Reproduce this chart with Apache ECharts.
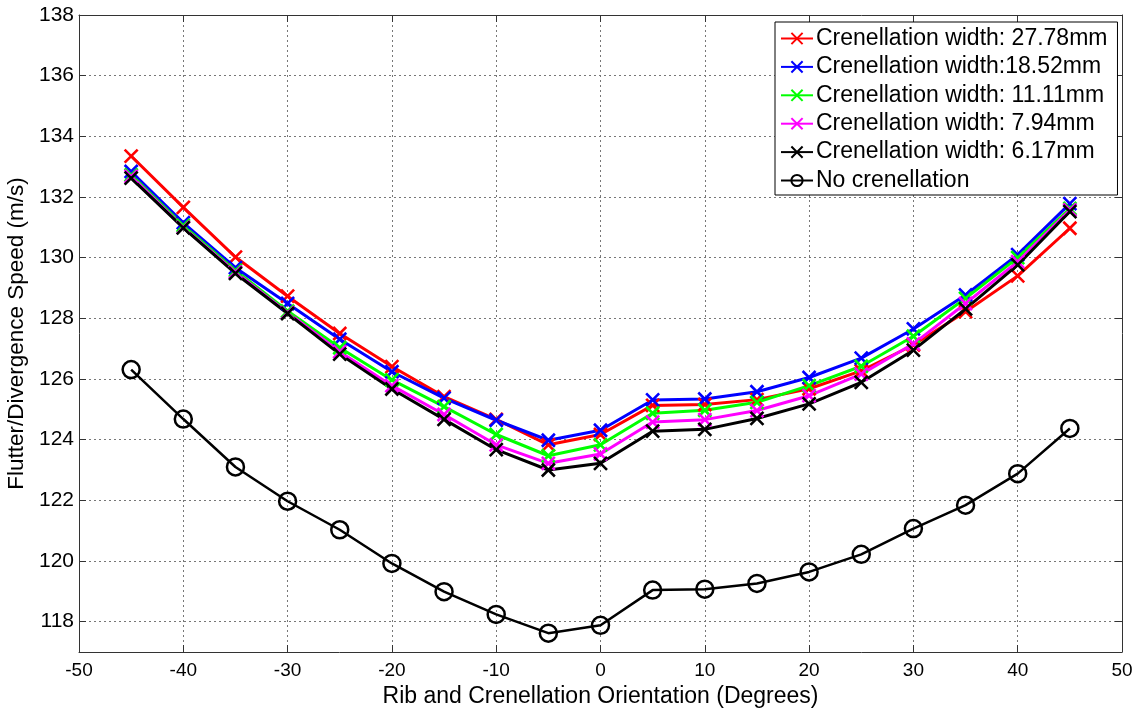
<!DOCTYPE html>
<html>
<head>
<meta charset="utf-8">
<script src="https://cdn.jsdelivr.net/npm/echarts@6/dist/echarts.min.js"></script>
<style>
  html, body { margin: 0; padding: 0; background: #fff; }
  #chart { width: 1143px; height: 711px; }
</style>
</head>
<body>
<div id="chart"></div>
<script>
// Orientation angles (degrees)
const angles = [-45, -40, -35, -30, -25, -20, -15, -10, -5, 0, 5, 10, 15, 20, 25, 30, 35, 40, 45];

// Flutter/divergence speed (m/s) for each crenellation width
const width2778 = [133.35, 131.66, 130.02, 128.73, 127.50, 126.41, 125.42, 124.67, 123.83, 124.17, 125.13, 125.16, 125.32, 125.68, 126.27, 127.12, 128.22, 129.40, 130.97];
const width1852 = [132.84, 131.15, 129.67, 128.49, 127.31, 126.24, 125.37, 124.64, 123.98, 124.31, 125.31, 125.34, 125.58, 126.05, 126.69, 127.65, 128.77, 130.10, 131.78];
const width1111 = [132.73, 131.06, 129.58, 128.24, 127.03, 125.97, 125.09, 124.17, 123.47, 123.83, 124.87, 124.97, 125.23, 125.78, 126.42, 127.41, 128.66, 130.00, 131.62];
const width794  = [132.68, 131.00, 129.52, 128.19, 126.90, 125.78, 124.83, 123.83, 123.22, 123.53, 124.58, 124.66, 124.96, 125.45, 126.16, 127.16, 128.49, 129.87, 131.57];
const width617  = [132.62, 130.98, 129.48, 128.16, 126.82, 125.67, 124.67, 123.67, 123.00, 123.22, 124.28, 124.34, 124.70, 125.18, 125.89, 126.95, 128.31, 129.76, 131.52];
const noCren    = [126.31, 124.68, 123.10, 121.97, 121.03, 119.92, 118.99, 118.24, 117.62, 117.88, 119.04, 119.07, 119.26, 119.64, 120.22, 121.07, 121.84, 122.88, 124.37];

const seriesNames = [
  'Crenellation width: 27.78mm',
  'Crenellation width:18.52mm',
  'Crenellation width: 11.11mm',
  'Crenellation width: 7.94mm',
  'Crenellation width: 6.17mm',
  'No crenellation'
];

// Axis tick values
const xTicks = [-50, -40, -30, -20, -10, 0, 10, 20, 30, 40, 50];
const yTicks = [118, 120, 122, 124, 126, 128, 130, 132, 134, 136, 138];

const FONT = 'Liberation Sans, Arial, sans-serif';
const CROSS = 'path://M0 0L10 10M10 0L0 10';

function pairs(vals) {
  return angles.map((a, i) => [a, vals[i]]);
}

function crossSeries(name, vals, color) {
  return {
    name: name,
    type: 'line',
    data: pairs(vals),
    symbol: CROSS,
    symbolSize: 13,
    showAllSymbol: true,
    lineStyle: { color: color, width: 3 },
    itemStyle: { color: color, borderColor: color, borderWidth: 2.6 },
    emphasis: { disabled: true },
    animation: false
  };
}

const chart = echarts.init(document.getElementById('chart'), null, { renderer: 'canvas' });

const gridLine = { show: true, lineStyle: { color: '#777', width: 1, type: [2, 3] } };
const frameLine = { show: true, onZero: false, lineStyle: { color: '#333', width: 1 } };
const inTick = { show: true, inside: true, length: 7, lineStyle: { color: '#333' } };

chart.setOption({
  backgroundColor: '#fff',
  animation: false,
  grid: { left: 79, right: 21, top: 15, bottom: 59, containLabel: false, outerBoundsMode: 'none' },
  legend: {
    orient: 'vertical',
    left: 775,
    top: 22,
    padding: [5, 10, 3, 5],
    itemGap: 5.4,
    itemWidth: 32,
    itemHeight: 14,
    backgroundColor: '#fff',
    borderColor: '#000',
    borderWidth: 1,
    borderRadius: 0,
    textStyle: { fontFamily: FONT, fontSize: 23, color: '#000', lineHeight: 23, padding: [0, 0, 0, -2] },
    data: seriesNames
  },
  xAxis: [
    {
      type: 'value', min: -50, max: 50, interval: 10,
      position: 'bottom',
      name: 'Rib and Crenellation Orientation (Degrees)',
      nameLocation: 'middle', nameGap: 27,
      nameTextStyle: { fontFamily: FONT, fontSize: 23, color: '#000' },
      axisLine: frameLine,
      axisTick: inTick,
      axisLabel: { fontFamily: FONT, fontSize: 19, color: '#000', margin: 9 },
      splitLine: gridLine
    },
    {
      type: 'value', min: -50, max: 50, interval: 10,
      position: 'top',
      axisLine: frameLine,
      axisTick: inTick,
      axisLabel: { show: false },
      splitLine: { show: false }
    }
  ],
  yAxis: [
    {
      type: 'value', min: 117, max: 138,
      position: 'left',
      name: 'Flutter/Divergence Speed (m/s)',
      nameLocation: 'middle', nameGap: 47,
      nameTextStyle: { fontFamily: FONT, fontSize: 22.5, color: '#000' },
      axisLine: frameLine,
      axisTick: Object.assign({ customValues: yTicks }, inTick),
      axisLabel: { fontFamily: FONT, fontSize: 21, color: '#000', margin: 5, customValues: yTicks },
      splitLine: gridLine
    },
    {
      type: 'value', min: 117, max: 138,
      position: 'right',
      axisLine: frameLine,
      axisTick: Object.assign({ customValues: yTicks }, inTick),
      axisLabel: { show: false, customValues: yTicks },
      splitLine: { show: false }
    }
  ],
  series: [
    crossSeries(seriesNames[0], width2778, '#ff0000'),
    crossSeries(seriesNames[1], width1852, '#0000ff'),
    crossSeries(seriesNames[2], width1111, '#00ff00'),
    crossSeries(seriesNames[3], width794, '#ff00ff'),
    crossSeries(seriesNames[4], width617, '#000000'),
    {
      name: seriesNames[5],
      type: 'line',
      data: pairs(noCren),
      symbol: 'circle',
      symbolSize: 17,
      showAllSymbol: true,
      lineStyle: { color: '#000', width: 2.5 },
      itemStyle: { color: 'rgba(0,0,0,0)', borderColor: '#000', borderWidth: 2.5 },
      emphasis: { disabled: true },
      animation: false
    }
  ]
});
</script>
</body>
</html>
